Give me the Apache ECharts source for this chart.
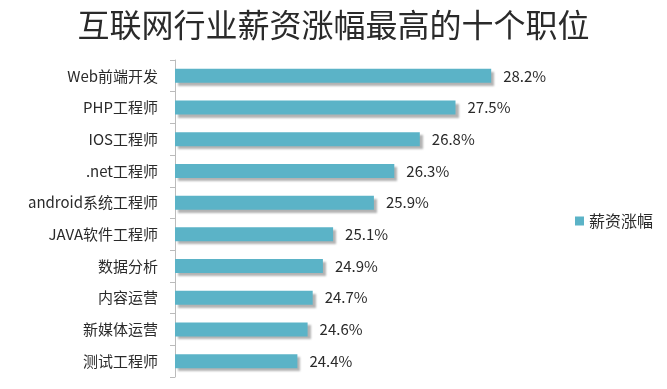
<!DOCTYPE html>
<html><head><meta charset="utf-8">
<script src="https://cdn.jsdelivr.net/npm/echarts@6/dist/echarts.min.js"></script>
<style>html,body{margin:0;padding:0;background:#fff}#c{width:667px;height:389px}</style>
</head><body><div id="c"></div>
<script>
const title = '互联网行业薪资涨幅最高的十个职位';
const seriesName = '薪资涨幅';
const categories = ['Web前端开发','PHP工程师','IOS工程师','.net工程师','android系统工程师','JAVA软件工程师','数据分析','内容运营','新媒体运营','测试工程师'];
const values = [28.2,27.5,26.8,26.3,25.9,25.1,24.9,24.7,24.6,24.4];

const font = '"Noto Sans CJK SC","Noto Sans",sans-serif';
const chart = echarts.init(document.getElementById('c'), null, {renderer:'canvas'});
chart.setOption({
  animation:false,
  backgroundColor:'#fff',
  title:{text:title,left:'center',top:4,textStyle:{fontFamily:font,fontSize:32,fontWeight:'normal',color:'#2a2a2a'}},
  legend:{data:[seriesName],orient:'vertical',left:570,top:208,itemWidth:9,itemHeight:9,icon:'rect',itemGap:4,
    textStyle:{fontFamily:font,fontSize:16,color:'#2a2a2a'}},
  grid:{left:175,top:60,width:408,height:317,containLabel:false},
  xAxis:{type:'value',min:22,max:30,show:false},
  yAxis:{type:'category',data:categories,inverse:true,
    axisLine:{show:true,lineStyle:{color:'#bbb',width:1}},
    axisTick:{show:true,length:5,lineStyle:{color:'#bbb'}},
    axisLabel:{margin:17,fontFamily:font,fontSize:15,color:'#2a2a2a'}},
  series:[{name:seriesName,type:'bar',data:values,barWidth:14,
    itemStyle:{color:'#5bb3c7',shadowColor:'rgba(0,0,0,0.3)',shadowOffsetX:3,shadowOffsetY:3,shadowBlur:2},
    label:{show:true,position:'right',distance:12,formatter:p=>p.value.toFixed(1)+'%',
      fontFamily:font,fontSize:15,color:'#2a2a2a'}}]
});
</script></body></html>
